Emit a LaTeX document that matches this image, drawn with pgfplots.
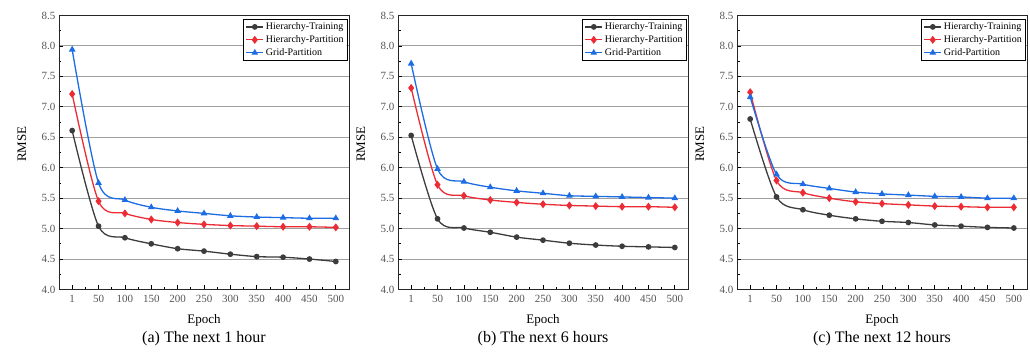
\documentclass[border=0pt]{standalone}
\usepackage{pgfplots}
\usepackage{pgfplotstable}
\pgfplotsset{compat=1.18}
\usepackage{fontspec}
\setmainfont{Liberation Serif}

\definecolor{cTrain}{RGB}{60,60,62}
\definecolor{cPart}{RGB}{236,44,52}
\definecolor{cGrid}{RGB}{28,108,228}
\definecolor{cTick}{RGB}{85,85,85}
\definecolor{cRule}{RGB}{160,160,160}

\tikzset{subcaption/.style={font=\fontsize{16}{18}\selectfont}}

% epoch index (0..10 -> 1,50,...,500), RMSE per method
\pgfplotstableread{
idx train part grid
0  6.61 7.21 7.94
1  5.04 5.45 5.75
2  4.85 5.25 5.47
3  4.75 5.15 5.35
4  4.67 5.10 5.29
5  4.63 5.07 5.25
6  4.58 5.05 5.21
7  4.54 5.04 5.19
8  4.53 5.03 5.18
9  4.50 5.03 5.17
10 4.46 5.02 5.17
}\hourA
\pgfplotstableread{
idx train part grid
0  6.53 7.31 7.71
1  5.16 5.72 5.98
2  5.01 5.54 5.77
3  4.94 5.47 5.68
4  4.86 5.43 5.62
5  4.81 5.40 5.58
6  4.76 5.38 5.54
7  4.73 5.37 5.53
8  4.71 5.36 5.52
9  4.70 5.36 5.51
10 4.69 5.35 5.50
}\hourF
\pgfplotstableread{
idx train part grid
0  6.80 7.24 7.16
1  5.52 5.79 5.89
2  5.31 5.59 5.73
3  5.22 5.50 5.66
4  5.16 5.44 5.60
5  5.12 5.41 5.57
6  5.10 5.39 5.55
7  5.06 5.37 5.53
8  5.04 5.36 5.52
9  5.02 5.35 5.50
10 5.01 5.35 5.50
}\hourL

\pgfplotsset{
  rmsepanel/.style={
    anchor=south west,
    scale only axis,
    clip mode=individual,
    width=290pt, height=274pt,
    xmin=-0.5, xmax=10.5,
    ymin=4.0, ymax=8.5,
    xtick={0,...,10},
    xticklabels={1,50,100,150,200,250,300,350,400,450,500},
    minor x tick num=1,
    ytick={4.0,4.5,...,8.5},
    minor y tick num=1,
    yticklabel style={/pgf/number format/.cd,fixed,fixed zerofill,precision=1},
    /pgf/number format/assume math mode=true,
    tick align=inside,
    xtick pos=bottom, ytick pos=left,
    major tick length=4pt, minor tick length=2.5pt,
    tick style={black, line width=0.7pt},
    ymajorgrids,
    major grid style={cRule, line width=0.9pt},
    axis line style={black!85, line width=0.9pt},
    ticklabel style={font=\fontsize{11}{12}\selectfont, text=cTick},
    xticklabel style={yshift=-2pt},
    xlabel={Epoch},
    ylabel={RMSE},
    label style={font=\fontsize{13}{15}\selectfont},
    xlabel style={at={(axis description cs:0.5,-0.111)}, anchor=center},
    ylabel style={at={(axis description cs:-0.128,0.53)}, anchor=center},
    legend style={at={(0.997,0.988)}, anchor=north east,
      draw=black, line width=0.8pt, fill=white,
      font=\fontsize{10}{12}\selectfont,
      inner xsep=2pt, inner ysep=1.5pt,
      row sep=0.5pt},
    legend cell align=left,
    every axis plot/.append style={line width=1.3pt, smooth, tension=0.5},
  },
  trainplot/.style={cTrain, mark=*, mark size=2.2pt, mark options={solid}},
  partplot/.style={cPart, mark=diamond*, mark size=3pt, mark options={solid}},
  gridplot/.style={cGrid, mark=triangle*, mark size=2.6pt, mark options={solid}},
}

\begin{document}
\begin{tikzpicture}
\useasboundingbox (0pt,0pt) rectangle (1030pt,352pt);

\begin{axis}[rmsepanel, at={(59pt,62.5pt)}]
  \addplot[trainplot] table[x=idx,y=train] {\hourA};
  \addplot[partplot]  table[x=idx,y=part]  {\hourA};
  \addplot[gridplot]  table[x=idx,y=grid]  {\hourA};
  \legend{Hierarchy-Training,Hierarchy-Partition,Grid-Partition}
  \node[subcaption] at (axis description cs:0.5,-0.181) {(a) The next 1 hour};
\end{axis}

\begin{axis}[rmsepanel, at={(398pt,62.5pt)}]
  \addplot[trainplot] table[x=idx,y=train] {\hourF};
  \addplot[partplot]  table[x=idx,y=part]  {\hourF};
  \addplot[gridplot]  table[x=idx,y=grid]  {\hourF};
  \legend{Hierarchy-Training,Hierarchy-Partition,Grid-Partition}
  \node[subcaption] at (axis description cs:0.5,-0.181) {(b) The next 6 hours};
\end{axis}

\begin{axis}[rmsepanel, at={(737pt,62.5pt)}]
  \addplot[trainplot] table[x=idx,y=train] {\hourL};
  \addplot[partplot]  table[x=idx,y=part]  {\hourL};
  \addplot[gridplot]  table[x=idx,y=grid]  {\hourL};
  \legend{Hierarchy-Training,Hierarchy-Partition,Grid-Partition}
  \node[subcaption] at (axis description cs:0.5,-0.181) {(c) The next 12 hours};
\end{axis}
\end{tikzpicture}
\end{document}
